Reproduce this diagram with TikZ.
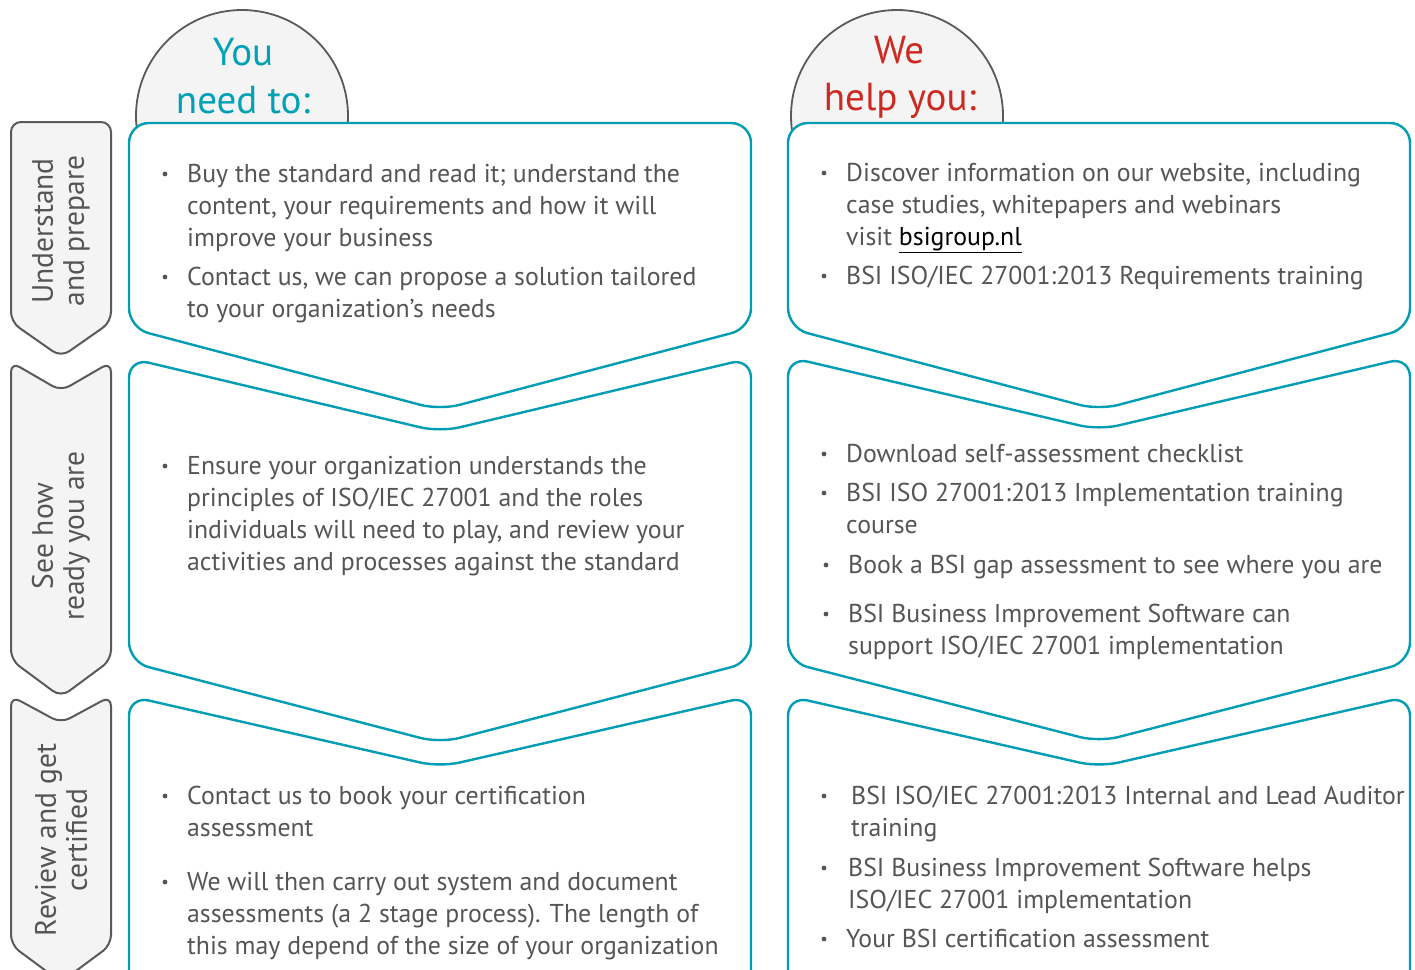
\documentclass[tikz,border=0pt]{standalone}
\usepackage{fontspec}
\setmainfont{PT Sans}

\definecolor{boxcyan}{RGB}{0,157,181}
\definecolor{headcyan}{RGB}{0,160,182}
\definecolor{headred}{RGB}{204,41,32}
\definecolor{txtgray}{RGB}{85,85,85}
\definecolor{tabgray}{RGB}{90,90,90}
\definecolor{tabfill}{RGB}{244,244,244}

\tikzset{
  boxline/.style={draw=boxcyan, fill=white, line width=2.4pt, rounded corners=20pt},
  tabline/.style={draw=tabgray, fill=tabfill, line width=2pt, rounded corners=10pt},
  headcircle/.style={draw=tabgray, fill=tabfill, line width=1.8pt},
  headtext/.style={font=\fontsize{39}{48}\selectfont, anchor=base, inner sep=0pt},
  tabtext/.style={font=\fontsize{29.5}{31}\selectfont, text=txtgray, align=center, inner sep=0pt, rotate=90},
  itemtext/.style={font=\fontsize{25.8}{32}\selectfont, text=txtgray, anchor=base west, inner sep=0pt},
}

% chevron box: x left, x right, y top, y notch, y side, y point
\newcommand{\chevbox}[6]{%
  \filldraw[boxline] (#1,{(#3+#5)/2}) -- (#1,#3) -- ({(#1+#2)/2},#4) -- (#2,#3)
    -- (#2,#5) -- ({(#1+#2)/2},#6) -- (#1,#5) -- cycle;}
\newcommand{\tabshape}[6]{%
  \filldraw[tabline] (#1,{(#3+#5)/2}) -- (#1,#3) -- ({(#1+#2)/2},#4) -- (#2,#3)
    -- (#2,#5) -- ({(#1+#2)/2},#6) -- (#1,#5) -- cycle;}
% bullet item: name, bullet x, text x, first baseline, lines
\newcommand{\bitem}[5]{%
  \fill[txtgray] (#2,#4-8) circle (2.4pt);
  \node[itemtext] (#1) at (#3,#4) {\begin{tabular}[t]{@{}l@{}}#5\end{tabular}};}

\begin{document}
\begin{tikzpicture}[x=1pt,y=-1pt]
\useasboundingbox (0,0) rectangle (1415,969);
\clip (0,0) rectangle (1415,969);

% headings
\filldraw[headcircle] (242,116) circle (106pt);
\filldraw[headcircle] (897,116) circle (106pt);
\node[headtext, text=headcyan] (you) at (243,65) {You};
\node[headtext, text=headcyan] (needto) at (243,113) {need to:};
\node[headtext, text=headred] (we) at (899,63) {We};
\node[headtext, text=headred] (helpyou) at (900,110) {help you:};

% left tabs
\tabshape{11}{111}{122}{122}{322}{357}
\tabshape{11}{111}{362}{391}{660}{697}
\tabshape{11}{111}{696}{723}{945}{982}

\node[tabtext] (tabA) at (61,231) {Understand\\and prepare};
\node[tabtext] (tabB) at (61,536) {See how\\ready you are};
\node[tabtext] (tabC) at (61,840) {Review and get\\certified};

% boxes, you need to
\chevbox{129}{751}{123}{123}{328}{410}
\chevbox{129}{751}{358}{432}{662}{743}
\chevbox{129}{751}{696}{767}{1010}{1090}

% boxes, we help you
\chevbox{788}{1410}{123}{123}{328}{410}
\chevbox{788}{1410}{357}{430}{662}{742}
\chevbox{788}{1410}{696}{767}{1010}{1090}

% texts, you need to
\bitem{youA}{165}{187}{182}{Buy the standard and read it; understand the\\content, your requirements and how it will\\improve your business}
\bitem{youB}{165}{187}{285}{Contact us, we can propose a solution tailored\\to your organization’s needs}
\bitem{youC}{165}{187}{474}{Ensure your organization understands the\\principles of ISO/IEC 27001 and the roles\\individuals will need to play, and review your\\activities and processes against the standard}
\bitem{youD}{165}{187}{804}{Contact us to book your certification\\assessment}
\bitem{youE}{165}{187}{890}{We will then carry out system and document\\assessments (a 2 stage process). The length of\\this may depend of the size of your organization}

% texts, we help you
\bitem{weA}{824}{846}{181}{Discover information on our website, including\\case studies, whitepapers and webinars\\visit {\color{black}\underline{bsigroup.nl}}}
\bitem{weB}{824}{846}{284}{BSI ISO/IEC 27001:2013 Requirements training}
\bitem{weC}{824}{846}{462}{Download self-assessment checklist}
\bitem{weD}{824}{846}{501}{BSI ISO 27001:2013 Implementation training\\course}
\bitem{weE}{826}{848}{573}{Book a BSI gap assessment to see where you are}
\bitem{weF}{826}{848}{622}{BSI Business Improvement Software can\\support ISO/IEC 27001 implementation}
\bitem{weG}{824}{851}{804}{BSI ISO/IEC 27001:2013 Internal and Lead Auditor\\training}
\bitem{weH}{824}{848}{876}{BSI Business Improvement Software helps\\ISO/IEC 27001 implementation}
\bitem{weI}{824}{846}{947}{Your BSI certification assessment}

\end{tikzpicture}
\end{document}
